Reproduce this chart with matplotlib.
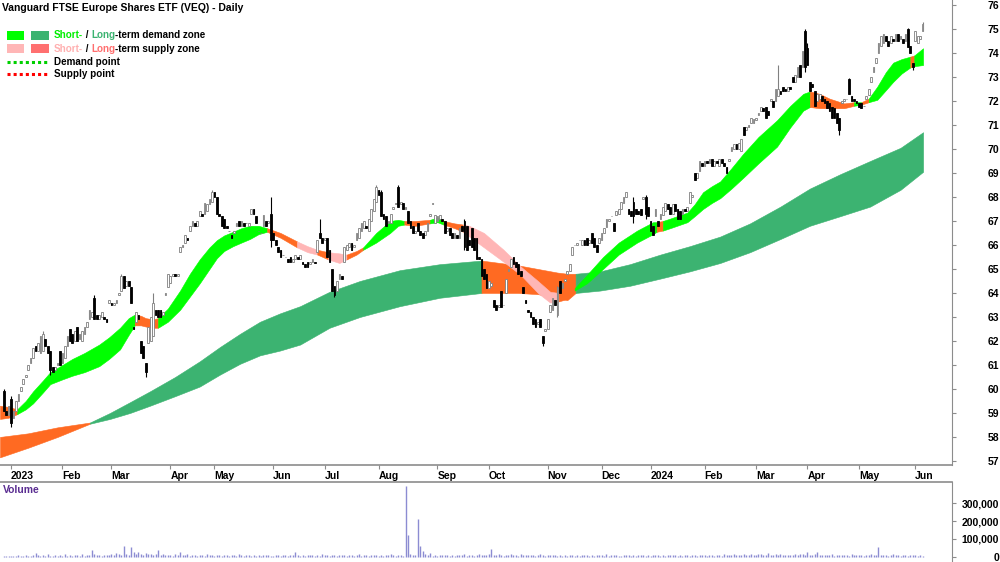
import numpy as np
import matplotlib
matplotlib.use("Agg")
import matplotlib.pyplot as plt
from matplotlib.patches import Rectangle
from matplotlib.lines import Line2D
from matplotlib.ticker import FuncFormatter

plt.rcParams['font.family'] = ['Liberation Sans', 'DejaVu Sans']

# --- datos (VEQ diario, dic 2022 - jun 2024) ---
opens = [
    59.9, 59.1, 58.9, 59.6, 58.8, 59.1, 59.5, 59.9, 60.2, 60.5,
    60.8, 61.1, 61.3, 61.8, 61.6, 61.5, 61.6, 62.1, 61.8, 61.6,
    60.9, 60.8, 61.0, 61.6, 61.1, 61.3, 61.8, 62.5, 62.3, 62.0,
    62.6, 62.1, 62.0, 62.3, 62.6, 62.9, 63.0, 63.8, 63.1, 62.9,
    63.0, 63.0, 62.9, 63.6, 63.6, 63.5, 63.6, 63.9, 64.1, 64.7,
    64.3, 64.5, 64.25, 62.6, 62.8, 63.1, 62.0, 61.8, 61.1, 61.9,
    62.0, 62.2, 63.3, 63.3, 63.3, 63.1, 63.9, 64.25, 64.4, 64.7,
    64.8, 64.7, 65.7, 65.9, 66.1, 66.3, 66.6, 66.8, 66.9, 66.8,
    67.2, 67.3, 67.3, 67.4, 67.7, 67.8, 68.2, 68.0, 67.3, 67.2,
    67.1, 66.8, 66.6, 66.4, 66.5, 66.8, 67.0, 66.8, 66.9, 66.9,
    66.8, 67.3, 67.5, 67.2, 66.6, 66.5, 66.8, 67.0, 66.9, 67.3,
    66.5, 66.2, 65.9, 65.8, 65.6, 65.5, 65.4, 65.5, 65.3, 65.4,
    65.5, 65.4, 65.3, 65.2, 65.3, 65.2, 65.3, 65.3, 65.7, 66.5,
    66.3, 66.2, 66.3, 65.8, 65.0, 64.3, 64.1, 64.6, 64.7, 65.3,
    65.8, 65.9, 66.1, 65.9, 66.2, 66.3, 66.6, 66.7, 66.8, 66.6,
    67.0, 67.4, 67.8, 68.3, 68.2, 67.3, 67.2, 66.9, 66.9, 67.5,
    67.7, 68.4, 67.7, 67.75, 67.5, 67.4, 67.0, 66.8, 66.5, 66.9,
    66.6, 66.5, 66.4, 66.6, 67.2, 67.7, 66.9, 67.0, 67.1, 67.1,
    67.0, 66.6, 66.7, 66.5, 66.3, 66.4, 66.3, 66.8, 67.0, 66.8,
    66.2, 66.7, 66.3, 66.3, 65.5, 65.4, 65.0, 64.8, 64.2, 64.3,
    63.7, 63.5, 63.4, 64.1, 63.5, 64.0, 64.9, 65.1, 65.5, 65.3,
    65.2, 64.9, 64.25, 63.7, 63.3, 63.2, 63.0, 62.9, 62.7, 62.9,
    62.2, 62.4, 62.5, 63.2, 63.3, 63.7, 63.1, 64.5, 64.2, 64.5,
    64.8, 64.9, 65.6, 66.0, 66.0, 66.2, 66.0, 66.2, 66.3, 66.1,
    66.5, 66.3, 66.0, 66.1, 66.2, 66.5, 66.75, 67.0, 67.2, 66.9,
    67.25, 67.3, 67.5, 67.75, 68.0, 67.5, 67.4, 67.8, 67.5, 67.4,
    67.5, 67.9, 68.0, 67.6, 67.0, 66.8, 67.2, 67.0, 67.1, 67.25,
    67.4, 67.7, 67.6, 67.3, 67.7, 67.5, 67.4, 67.3, 67.5, 67.4,
    67.75, 68.0, 69.0, 68.8, 69.1, 69.4, 69.3, 69.5, 69.4, 69.6,
    69.3, 69.5, 69.3, 69.6, 69.4, 69.25, 69.5, 69.9, 70.0, 70.2,
    70.0, 69.9, 70.9, 70.8, 70.9, 71.1, 71.1, 71.2, 71.4, 71.6,
    71.7, 71.75, 71.6, 72.0, 72.0, 72.0, 72.2, 72.4, 72.6, 72.5,
    72.4, 72.6, 73.0, 72.8, 73.0, 73.5, 73.4, 74.9, 74.2, 72.8,
    72.7, 72.4, 72.0, 72.1, 72.2, 72.1, 72.0, 71.9, 71.75, 71.7,
    71.5, 71.3, 71.9, 72.0, 72.1, 72.9, 72.2, 72.1, 72.0, 71.9,
    71.9, 71.8, 72.1, 72.25, 72.8, 73.2, 73.6, 74.0, 74.3, 74.4,
    74.7, 74.5, 74.4, 74.6, 74.5, 74.8, 74.6, 74.6, 74.5, 75.0,
    74.3, 73.6, 74.5, 74.4, 74.6, 74.9,
]

closes = [
    59.1, 58.9, 59.3, 58.6, 59.1, 59.5, 59.8, 60.1, 60.4, 60.6,
    61.0, 61.3, 61.7, 61.6, 61.9, 62.2, 62.3, 61.8, 61.5, 60.8,
    60.7, 60.9, 61.1, 61.0, 61.5, 61.8, 62.2, 62.0, 61.9, 62.4,
    62.0, 62.3, 62.4, 62.6, 62.8, 63.3, 63.2, 62.9, 62.9, 63.1,
    63.2, 62.9, 62.8, 63.7, 63.5, 63.6, 63.7, 64.0, 64.7, 64.2,
    64.5, 64.3, 63.6, 62.5, 63.2, 62.9, 61.5, 61.3, 60.7, 62.6,
    63.0, 63.6, 63.1, 63.0, 63.0, 63.2, 64.0, 64.8, 64.7, 64.8,
    64.7, 64.8, 65.9, 66.0, 66.4, 66.2, 66.8, 67.0, 66.8, 67.0,
    67.4, 67.2, 67.75, 67.7, 67.9, 68.2, 68.0, 67.3, 67.2, 66.8,
    66.7, 66.7, 66.6, 66.3, 66.6, 66.9, 66.8, 67.0, 66.8, 66.9,
    66.9, 67.5, 67.3, 66.9, 66.6, 66.5, 67.25, 66.8, 67.0, 66.2,
    66.2, 66.0, 65.7, 65.5, 65.6, 65.5, 65.3, 65.3, 65.4, 65.6,
    65.4, 65.6, 65.2, 65.1, 65.1, 65.3, 65.4, 65.25, 66.2, 66.3,
    66.1, 66.3, 65.5, 65.3, 64.1, 63.9, 64.5, 64.8, 64.6, 65.9,
    66.0, 66.1, 65.8, 66.0, 66.5, 66.7, 66.9, 67.0, 66.7, 67.1,
    67.5, 67.9, 68.4, 68.1, 67.2, 67.1, 66.8, 67.0, 67.3, 67.6,
    67.75, 67.6, 67.8, 67.5, 67.6, 66.9, 66.7, 66.5, 66.6, 66.6,
    66.4, 66.3, 66.6, 66.9, 67.3, 67.75, 67.25, 67.2, 67.25, 67.0,
    66.5, 66.7, 66.4, 66.3, 66.5, 66.3, 66.7, 66.6, 65.9, 65.8,
    66.0, 65.9, 65.8, 65.4, 65.4, 64.7, 64.6, 64.2, 64.5, 64.4,
    63.4, 63.3, 63.5, 63.4, 63.5, 64.6, 65.0, 65.4, 65.2, 65.1,
    64.8, 64.7, 64.0, 63.6, 63.2, 63.0, 62.7, 62.6, 62.8, 62.6,
    61.9, 62.5, 62.9, 63.5, 63.8, 63.5, 64.25, 64.0, 64.4, 64.6,
    64.9, 65.2, 65.9, 66.0, 66.1, 66.2, 66.2, 66.0, 66.0, 66.2,
    66.1, 65.9, 65.7, 66.3, 66.5, 66.7, 67.1, 67.1, 67.2, 66.6,
    67.4, 67.5, 67.8, 68.0, 68.2, 67.3, 67.2, 67.2, 67.3, 67.3,
    67.25, 68.0, 67.3, 67.2, 66.6, 66.4, 67.5, 66.8, 67.3, 67.6,
    67.75, 67.5, 67.3, 67.7, 67.4, 67.1, 67.1, 67.5, 67.4, 67.6,
    68.2, 68.1, 68.7, 69.0, 69.5, 69.3, 69.5, 69.4, 69.6, 69.3,
    69.5, 69.4, 69.6, 69.4, 69.3, 69.0, 69.6, 70.1, 70.2, 70.0,
    70.25, 70.4, 70.6, 70.9, 71.0, 71.3, 71.25, 71.3, 71.5, 71.75,
    71.6, 71.3, 71.4, 72.1, 71.75, 72.5, 72.5, 72.3, 72.4, 72.4,
    72.6, 72.5, 72.8, 73.1, 73.4, 73.0, 74.1, 73.4, 73.5, 72.4,
    72.6, 71.8, 72.3, 72.3, 72.0, 71.9, 71.7, 71.6, 71.3, 71.3,
    71.1, 70.8, 72.0, 72.1, 72.1, 72.3, 72.0, 72.0, 71.9, 71.75,
    71.7, 71.8, 72.2, 72.5, 73.0, 73.4, 73.8, 74.4, 74.7, 74.8,
    74.5, 74.3, 74.7, 74.5, 74.8, 74.5, 74.7, 74.4, 74.8, 74.25,
    74.0, 73.4, 74.9, 74.7, 74.7, 75.2,
]

# mechas visibles (dia: precio)
high_wicks = {0: 60.0, 3: 59.7, 16: 62.4, 37: 63.9, 48: 64.8, 61: 64.0, 85: 68.3,
              109: 68.0, 129: 67.1, 152: 68.5, 154: 68.3, 161: 68.5, 188: 67.1,
              226: 64.3, 257: 68.0, 262: 68.1, 316: 73.5, 327: 75.0, 328: 74.4,
              345: 72.95, 369: 75.05, 375: 75.3}
low_wicks = {3: 58.4, 19: 60.6, 58: 60.5, 109: 65.9, 135: 63.85, 188: 65.8,
             220: 61.8, 226: 63.0, 257: 66.9, 262: 67.1, 327: 73.2, 341: 70.6, 371: 73.3}

# volumen en miles
volume_k = [
    6, 4, 8, 5, 7, 3, 9, 5, 6, 12, 8, 7, 10, 22, 9, 6, 11, 7, 14, 8,
    6, 9, 5, 13, 7, 18, 8, 10, 6, 12, 9, 7, 15, 8, 11, 10, 39, 14, 9, 12,
    8, 10, 13, 9, 16, 11, 20, 14, 12, 61, 17, 13, 55, 25, 19, 28, 16, 12, 24, 15,
    18, 11, 14, 39, 12, 16, 9, 13, 11, 8, 14, 10, 30, 12, 9, 15, 7, 11, 13, 8,
    10, 12, 8, 14, 9, 11, 7, 10, 13, 6, 9, 12, 8, 11, 10, 7, 14, 9, 8, 12,
    9, 6, 11, 8, 13, 7, 10, 9, 12, 8, 6, 11, 9, 7, 10, 13, 8, 12, 9, 30,
    11, 8, 10, 7, 13, 9, 12, 6, 10, 8, 14, 11, 9, 7, 12, 10, 8, 13, 9, 11,
    7, 10, 12, 8, 9, 14, 6, 11, 10, 8, 13, 9, 12, 7, 10, 8, 11, 9, 14, 10,
    8, 12, 9, 7, 394, 122, 18, 10, 9, 211, 61, 33, 14, 9, 22, 8, 11, 7, 10, 12,
    9, 13, 8, 10, 7, 12, 9, 11, 14, 8, 10, 12, 7, 9, 15, 11, 13, 10, 16, 44,
    12, 9, 14, 11, 8, 13, 10, 17, 9, 12, 8, 15, 11, 10, 13, 9, 12, 7, 10, 14,
    11, 8, 13, 10, 9, 12, 7, 11, 8, 10, 6, 9, 12, 8, 11, 7, 10, 9, 13, 8,
    10, 7, 12, 9, 11, 8, 14, 6, 10, 9, 12, 8, 7, 11, 9, 13, 8, 10, 6, 12,
    9, 11, 8, 13, 7, 10, 12, 9, 8, 11, 7, 10, 13, 9, 12, 8, 10, 6, 11, 9,
    8, 12, 10, 7, 11, 9, 13, 8, 10, 12, 7, 9, 11, 8, 14, 10, 9, 12, 16, 11,
    13, 9, 15, 11, 10, 18, 12, 9, 14, 16, 11, 13, 20, 10, 12, 15, 9, 14, 11, 13,
    10, 12, 9, 16, 11, 14, 19, 13, 28, 12, 10, 15, 28, 11, 13, 9, 12, 10, 14, 8,
    11, 9, 13, 10, 12, 8, 14, 9, 11, 10, 13, 8, 12, 9, 15, 11, 10, 55, 13, 9,
    12, 8, 10, 14, 9, 11, 7, 13, 10, 8, 12, 9, 11, 7, 10, 6,
]

# inicio de cada mes (indice de dia) y su etiqueta
month_ticks = [3, 24, 44, 68, 86, 110, 131, 153, 177, 198, 222, 244, 264, 286, 307, 328, 349, 372]
month_labels = ['2023', 'Feb', 'Mar', 'Apr', 'May', 'Jun', 'Jul', 'Aug', 'Sep', 'Oct',
                'Nov', 'Dec', '2024', 'Feb', 'Mar', 'Apr', 'May', 'Jun']

short_days = [-1.5, 2, 5.5, 9, 12, 16, 19, 24, 28, 33, 39, 43, 47.5, 51, 53.5, 56, 58, 61,
              63, 67, 72, 76, 80, 84, 87, 90, 93.6, 97, 100.5, 104, 107.5, 113, 119.7,
              124, 128, 132.4, 137, 140, 144, 146.7, 152, 157.7, 161, 163.5, 168, 174,
              177, 179.5, 184, 187.5, 190, 196, 204, 211, 218, 223, 226.5, 230, 233, 238,
              244.6, 251, 258.5, 265, 266.5, 269, 272, 279, 282, 285.4, 289, 292.4, 297,
              301.8, 308, 315.6, 321, 326.3, 329, 333, 337, 343, 347, 350, 353, 356.5,
              360, 363, 366.5, 370, 371.6, 375.2]
short_hi = [59.3, 59.25, 59.15, 59.5, 59.9, 60.35, 60.7, 61.0, 61.25, 61.5, 61.85, 62.15,
            62.55, 62.95, 63.1, 63.05, 62.95, 62.9, 62.95, 63.35, 64.1, 64.8, 65.4, 65.9,
            66.2, 66.4, 66.55, 66.7, 66.8, 66.8, 66.7, 66.5, 66.15, 65.95, 65.8, 65.7,
            65.65, 65.6, 65.75, 65.9, 66.5, 67.0, 67.05, 67.0, 67.0, 67.05, 67.15, 67.0,
            66.9, 66.85, 66.8, 66.5, 65.8, 65.1, 64.5, 64.05, 64.0, 64.1, 64.2, 64.75,
            65.5, 66.1, 66.6, 66.95, 66.95, 67.0, 67.1, 67.35, 67.7, 68.2, 68.45, 68.65,
            69.2, 69.8, 70.5, 71.2, 71.8, 72.3, 72.4, 72.3, 72.1, 71.9, 71.95, 71.95,
            72.1, 72.6, 73.2, 73.6, 73.75, 73.85, 73.9, 74.2]
short_lo = [58.75, 58.8, 58.95, 59.15, 59.4, 59.85, 60.2, 60.4, 60.55, 60.7, 60.95, 61.25,
            61.65, 62.25, 62.65, 62.65, 62.6, 62.55, 62.55, 62.8, 63.3, 63.85, 64.4, 65.0,
            65.45, 65.75, 65.95, 66.1, 66.25, 66.45, 66.55, 66.3, 65.9, 65.7, 65.6, 65.4,
            65.25, 65.4, 65.6, 65.8, 66.1, 66.5, 66.8, 66.85, 66.8, 66.9, 66.95, 66.85,
            66.7, 66.55, 66.35, 65.9, 65.3, 64.75, 64.0, 63.6, 63.65, 63.75, 64.1, 64.4,
            65.0, 65.6, 66.1, 66.45, 66.55, 66.6, 66.7, 66.95, 67.2, 67.5, 67.75, 67.95,
            68.35, 68.8, 69.4, 70.1, 70.9, 71.6, 71.75, 71.7, 71.7, 71.7, 71.8, 71.85,
            71.95, 72.05, 72.45, 72.8, 73.15, 73.4, 73.45, 73.5]
# D = demanda, S = oferta, W = oferta debil (rosa)
short_zones = [(-1.5, 5.5, 'S'), (5.5, 53.5, 'D'), (53.5, 63, 'S'), (63, 107.5, 'D'),
               (107.5, 119.7, 'S'), (119.7, 128, 'W'), (128, 132.4, 'S'), (132.4, 140, 'W'),
               (140, 146.7, 'S'), (146.7, 163.5, 'D'), (163.5, 174, 'S'), (174, 179.5, 'D'),
               (179.5, 187.5, 'S'), (187.5, 226.5, 'W'), (226.5, 233, 'S'), (233, 266.5, 'D'),
               (266.5, 269, 'S'), (269, 329, 'D'), (329, 347, 'S'), (347, 350, 'D'),
               (350, 353, 'S'), (353, 370, 'D'), (370, 371.6, 'S'), (371.6, 375.2, 'D')]

# zona de largo plazo
long_days = [-1.5, 10, 22, 35.2, 43.4, 51.6, 59.7, 70, 80, 88.3, 96.5, 104.6, 112.8, 121,
             133, 145.4, 161.7, 178, 195, 210, 218, 226, 230, 233.4, 243.4, 255.6, 268,
             280, 292.4, 304.6, 317, 329, 341.4, 353.6, 366, 375.2]
long_hi = [58.0, 58.15, 58.4, 58.6, 59.0, 59.45, 59.9, 60.5, 61.15, 61.75, 62.3, 62.8,
           63.15, 63.45, 64.05, 64.5, 64.95, 65.2, 65.35, 65.15, 65.0, 64.85, 64.8, 64.8,
           64.9, 65.2, 65.6, 65.95, 66.35, 66.9, 67.6, 68.35, 68.95, 69.5, 70.05, 70.7]
long_lo = [57.15, 57.55, 58.0, 58.55, 58.75, 59.0, 59.3, 59.7, 60.1, 60.6, 61.05, 61.4,
           61.6, 61.85, 62.55, 63.0, 63.45, 63.8, 64.0, 64.0, 63.95, 63.8, 63.7, 64.0,
           64.1, 64.3, 64.6, 64.9, 65.25, 65.7, 66.25, 66.8, 67.2, 67.6, 68.3, 69.05]
long_zones = [(-1.5, 35.2, 'S'), (35.2, 195, 'D'), (195, 233.4, 'S'), (233.4, 375.2, 'D')]

short_colors = {'D': '#00FF00', 'S': '#FF6A22', 'W': '#FFB6B6'}
long_colors = {'D': '#3CB371', 'S': '#FF6A22'}

n = len(closes)
x = np.arange(n)
o = np.array(opens)
c = np.array(closes)
hi = np.maximum(o, c)
lo = np.minimum(o, c)
for d, v in high_wicks.items():
    hi[d] = v
for d, v in low_wicks.items():
    lo[d] = v
up = c >= o

fig = plt.figure(figsize=(10, 5.62), dpi=100)
ax = fig.add_axes([0, 1 - 465 / 562, 0.952, 465 / 562])
vax = fig.add_axes([0, 0, 0.952, 80 / 562])

grey = '#8c8c8c'


def draw_zone(days, top, bot, zones, colors, z):
    days = np.array(days)
    top = np.array(top)
    bot = np.array(bot)
    for start, end, state in zones:
        m = (days >= start) & (days <= end)
        ax.fill_between(days[m], bot[m], top[m], color=colors[state], lw=0.4, zorder=z)


draw_zone(long_days, long_hi, long_lo, long_zones, long_colors, 1)
draw_zone(short_days, short_hi, short_lo, short_zones, short_colors, 2)

# velas
ax.vlines(x[up], lo[up], hi[up], color='#808080', lw=0.8, zorder=3)
ax.vlines(x[~up], lo[~up], hi[~up], color='black', lw=0.8, zorder=3)
ax.bar(x[up], (c - o)[up], bottom=o[up], width=0.7, color='white',
       edgecolor='#808080', lw=0.6, zorder=4)
ax.bar(x[~up], (o - c)[~up], bottom=c[~up], width=0.7, color='black',
       edgecolor='black', lw=0.6, zorder=4)

ax.set_ylim(56.83, 76.21)
for a in (ax, vax):
    a.set_xlim(-1.5, 387)
    a.spines['left'].set_visible(False)
    a.spines['right'].set_color(grey)
    a.patch.set_alpha(0)
ax.spines['top'].set_visible(False)
ax.spines['bottom'].set_color(grey)
ax.spines['bottom'].set_linewidth(1.2)
vax.spines['bottom'].set_visible(False)
vax.spines['top'].set_color(grey)
vax.spines['top'].set_linewidth(1.2)

# eje Y derecho
ax.yaxis.tick_right()
ax.set_yticks(range(57, 77))
ax.tick_params(axis='y', direction='out', length=3, color=grey, pad=31, labelsize=7.5)
for lbl in ax.get_yticklabels():
    lbl.set_ha('right')
    lbl.set_fontweight('bold')

# eje X con meses
ax.set_xticks(month_ticks)
ax.set_xticklabels(month_labels, ha='left', fontweight='bold', fontsize=7.5)
ax.tick_params(axis='x', direction='out', length=3, color=grey, pad=1)

# volumen
vax.vlines(x, 0, np.array(volume_k) * 1000, color='#8c8cd2', lw=1.0)
vax.set_ylim(-27800, 416700)
vax.yaxis.tick_right()
vax.set_yticks([0, 100000, 200000, 300000])
vax.yaxis.set_major_formatter(FuncFormatter(lambda v, p: f'{int(v):,}'))
vax.tick_params(axis='y', direction='out', length=3, color=grey, pad=31, labelsize=7.5)
for lbl in vax.get_yticklabels():
    lbl.set_ha('right')
    lbl.set_fontweight('bold')
vax.set_xticks([])
vax.text(0.003, 0.9, 'Volume', transform=vax.transAxes, color='#5a2d91',
         fontsize=7.5, fontweight='bold', va='center')

# titulo y leyenda
fig.text(0.002, 1 - 8 / 562, 'Vanguard FTSE Europe Shares ETF (VEQ) - Daily',
         fontsize=7.5, fontweight='bold', va='center')


def fy(py):
    return 1 - py / 562


def chain_text(px, py, parts):
    t = fig.text(px / 1000, fy(py), parts[0][0], color=parts[0][1], fontsize=7.1,
                 va='center', fontweight='bold')
    for s, col in parts[1:]:
        t = ax.annotate(s, xy=(1, 0), xycoords=t, va='bottom', ha='left', color=col,
                        fontsize=7.1, fontweight='bold')


for (c1, c2), py in ((('#00FF00', '#3CB371'), 31), (('#FFB6B6', '#FF7070'), 44)):
    fig.patches.append(Rectangle((7 / 1000, fy(py + 9)), 17 / 1000, 9 / 562,
                                 transform=fig.transFigure, color=c1, lw=0))
    fig.patches.append(Rectangle((31 / 1000, fy(py + 9)), 18 / 1000, 9 / 562,
                                 transform=fig.transFigure, color=c2, lw=0))

chain_text(54, 35.5, [('Short-', '#00EE00'), (' / ', 'black'), ('Long', '#3CB371'),
                      ('-term demand zone', 'black')])
chain_text(54, 48.5, [('Short-', '#FFB0B0'), (' / ', 'black'), ('Long', '#FF6F6F'),
                      ('-term supply zone', 'black')])
for col, py, label in (('#00D000', 62, 'Demand point'), ('#FF0000', 74, 'Supply point')):
    fig.lines.append(Line2D([7 / 1000, 49 / 1000], [fy(py), fy(py)], transform=fig.transFigure,
                            color=col, lw=2.2, linestyle=(0, (1, 1))))
    fig.text(54 / 1000, fy(py), label, fontsize=7.1, va='center', fontweight='bold')

fig.savefig('out.png', dpi=100)
